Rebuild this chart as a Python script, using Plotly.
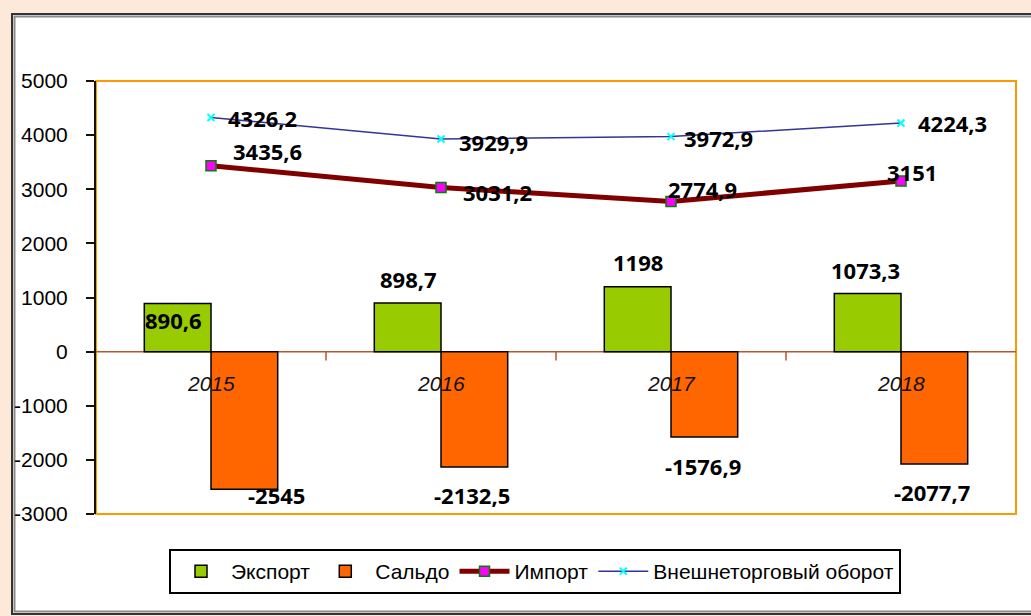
import plotly.graph_objects as go

years = ["2015", "2016", "2017", "2018"]
export = [890.6, 898.7, 1198, 1073.3]
saldo = [-2545, -2132.5, -1576.9, -2077.7]
imports = [3435.6, 3031.2, 2774.9, 3151]
turnover = [4326.2, 3929.9, 3972.9, 4224.3]
ytick_vals = [-3000, -2000, -1000, 0, 1000, 2000, 3000, 4000, 5000]
ytick_text = ["-3000", "-2000", "-1000", "0", "1000", "2000", "3000", "4000", "5000"]

# label offsets in pixels (style)
exp_off = [(-4, -17), (1, 24), (0, 25), (-2, 24)]
sal_off = [(32, -6), (-2, -28), (-1, -29), (-2, -28)]
imp_off = [(56, 15), (56, -4), (31, 12), (11, 9)]
tur_off = [(51, -1), (52, -3), (47, -1), (51, 0)]

def fmt(v):
    return f"{v:g}".replace(".", ",")

xs = list(range(len(years)))
LBL = dict(family="Open Sans", size=22, color="black")
AX = dict(family="Liberation Sans, Arial", size=21, color="black")

fig = go.Figure()
fig.add_trace(go.Bar(x=xs, y=export, name="Экспорт", marker=dict(color="#99CC00", line=dict(color="black", width=1.5))))
fig.add_trace(go.Bar(x=xs, y=saldo, name="Сальдо", marker=dict(color="#FF6600", line=dict(color="black", width=1.5))))
fig.add_trace(go.Scatter(x=xs, y=imports, name="Импорт", mode="lines+markers",
                         line=dict(color="#800000", width=5),
                         marker=dict(symbol="square", size=10, color="#FF00FF", line=dict(color="#008000", width=1.5))))
fig.add_trace(go.Scatter(x=xs, y=turnover, name="Внешнеторговый оборот", mode="lines+markers",
                         line=dict(color="#333399", width=1.5),
                         marker=dict(symbol="x-thin", size=7, color="#00FFFF", line=dict(color="#00FFFF", width=2))))

ann = []
bw = 0.58 / 2
for i in xs:
    ann.append(dict(x=i - bw / 2, y=export[i], text=fmt(export[i]), xshift=exp_off[i][0], yshift=exp_off[i][1]))
    ann.append(dict(x=i + bw / 2, y=saldo[i], text=fmt(saldo[i]), xshift=sal_off[i][0], yshift=sal_off[i][1]))
    ann.append(dict(x=i, y=imports[i], text=fmt(imports[i]), xshift=imp_off[i][0], yshift=imp_off[i][1]))
    ann.append(dict(x=i, y=turnover[i], text=fmt(turnover[i]), xshift=tur_off[i][0], yshift=tur_off[i][1]))
for a in ann:
    a.update(showarrow=False, font=LBL, xref="x", yref="y", text="<b>" + a["text"] + "</b>")
for i in xs:
    ann.append(dict(x=i, y=0, yshift=-32, text="<i>" + years[i] + "</i>", showarrow=False,
                    font=dict(family="Liberation Sans, Arial", size=21, color="#111"),
                    xref="x", yref="y"))

L, T, R, B = 96, 81, 15, 102
W, H = 1031, 616
pw, ph = W - L - R, H - T - B
def px(x): return (x - L) / pw
def py(y): return (H - B - y) / ph

shapes = [
    dict(type="rect", xref="paper", yref="paper", x0=px(12), x1=px(1040), y0=py(614), y1=py(14),
         fillcolor="white", line=dict(color="#333333", width=2), layer="below"),
    dict(type="rect", xref="paper", yref="paper", x0=px(14.5), x1=px(1040), y0=py(611.5), y1=py(16.5),
         fillcolor="rgba(0,0,0,0)", line=dict(color="#8a8a8a", width=2), layer="below"),
    dict(type="rect", xref="x domain", yref="y domain", x0=0, x1=1, y0=0, y1=1,
         line=dict(color="#FF9900", width=2), layer="below"),
    dict(type="line", xref="x domain", yref="y", x0=0, x1=1, y0=0, y1=0,
         line=dict(color="#B5562B", width=1.5), layer="below"),
]
for b in [0.5, 1.5, 2.5]:
    shapes.append(dict(type="line", xref="x", yref="y", x0=b, x1=b, y0=0, y1=-165,
                       line=dict(color="#B5562B", width=1.5), layer="below"))

fig.update_layout(
    width=W, height=H,
    margin=dict(l=L, r=R, t=T, b=B),
    paper_bgcolor="#FDE9D9", plot_bgcolor="rgba(0,0,0,0)",
    barmode="group", bargap=0.42, bargroupgap=0,
    showlegend=True,
    legend=dict(orientation="h", x=px(535), xanchor="center", y=py(549), yanchor="top",
                bordercolor="black", borderwidth=2, bgcolor="white", font=AX,
                itemwidth=50, traceorder="normal"),
    xaxis=dict(range=[-0.5, 3.5], showticklabels=False, showgrid=False, zeroline=False,
               showline=False, ticks=""),
    yaxis=dict(range=[-3000, 5000], tickvals=ytick_vals, ticktext=ytick_text, showgrid=False,
               zeroline=False, showline=True, linecolor="#1a1000", linewidth=2,
               ticks="outside", ticklen=8, tickcolor="#1a1000", tickwidth=2, tickfont=AX, ticklabelstandoff=14),
    annotations=ann, shapes=shapes,
)
fig.write_html("out.html", config={"displayModeBar": False},
               post_script="document.body.style.margin='0';document.body.style.overflow='hidden';")
